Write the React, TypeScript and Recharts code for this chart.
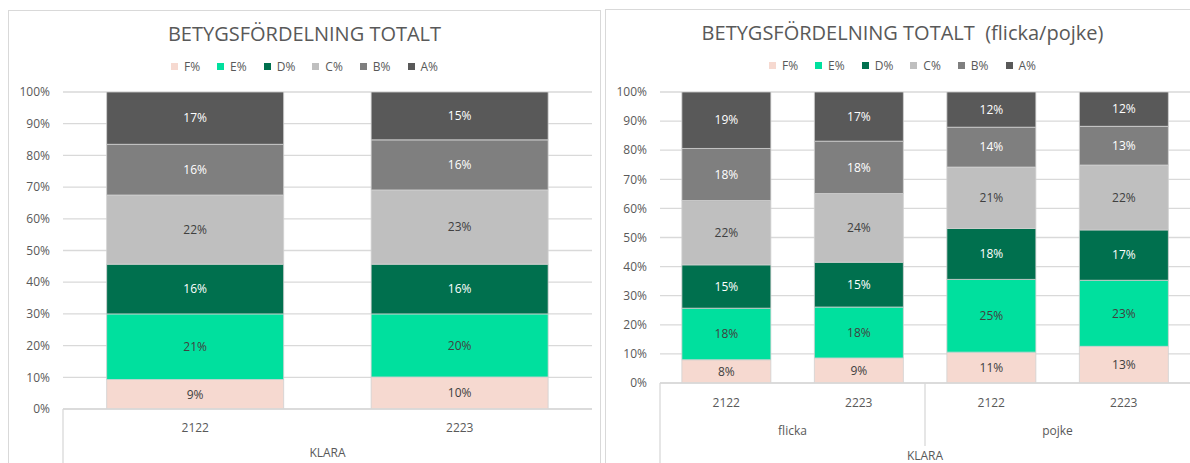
import React from 'react';
import { BarChart, Bar, XAxis, YAxis, CartesianGrid, LabelList } from 'recharts';

// ---------- data ----------
const gradeKeys = ['F', 'E', 'D', 'C', 'B', 'A'];
const gradeNames = ['F%', 'E%', 'D%', 'C%', 'B%', 'A%'];
const yTicks = [0, 10, 20, 30, 40, 50, 60, 70, 80, 90, 100];

// Chart 1: total
const totalYears = ['2122', '2223'];
const totalF = [9.3, 10.1];
const totalE = [20.7, 19.9];
const totalD = [15.7, 15.7];
const totalC = [21.8, 23.4];
const totalB = [16.0, 15.8];
const totalA = [16.5, 15.1];
const totalGroupLabel = 'KLARA';

// Chart 2: flicka / pojke
const splitYears = ['2122', '2223', '2122', '2223'];
const splitGroups = ['flicka', 'flicka', 'pojke', 'pojke'];
const splitF = [8.0, 8.6, 10.6, 12.6];
const splitE = [17.7, 17.5, 25.0, 22.7];
const splitD = [14.9, 15.4, 17.5, 17.3];
const splitC = [22.1, 23.6, 21.1, 22.3];
const splitB = [17.9, 18.0, 13.7, 13.3];
const splitA = [19.4, 16.9, 12.1, 11.8];

const titleTotal = 'BETYGSFÖRDELNING TOTALT';
const titleSplit = 'BETYGSFÖRDELNING TOTALT  (flicka/pojke)';

// ---------- styles ----------
const FONT = '"Open Sans", "DejaVu Sans", sans-serif';
const TEXT = '#595959';
const GRID = '#D9D9D9';
const colors = ['#F6D9D0', '#00E09E', '#00704E', '#BFBFBF', '#7F7F7F', '#595959'];
const labelColors = ['#404040', '#404040', '#FFFFFF', '#404040', '#FFFFFF', '#FFFFFF'];

function buildRows(years: string[], groups: string[] | null, series: number[][]) {
  return years.map((y, i) => {
    const row: any = { key: `${groups ? groups[i] : ''}-${y}-${i}`, year: y };
    gradeKeys.forEach((k, s) => {
      row[k] = series[s][i];
    });
    return row;
  });
}

const totalRows = buildRows(totalYears, null, [totalF, totalE, totalD, totalC, totalB, totalA]);
const splitRows = buildRows(splitYears, splitGroups, [splitF, splitE, splitD, splitC, splitB, splitA]);

function Legend() {
  return (
    <div style={{ display: 'flex', justifyContent: 'center', gap: 17, fontFamily: FONT, fontSize: 12, color: TEXT }}>
      {gradeNames.map((n, i) => (
        <div key={n} style={{ display: 'flex', alignItems: 'center', gap: 6 }}>
          <div style={{ width: 7, height: 7, background: colors[i] }} />
          <span>{n}</span>
        </div>
      ))}
    </div>
  );
}

type PanelProps = {
  left: number;
  top: number;
  width: number;
  height: number;
  title: string;
  rows: any[];
  groups: string[] | null;
  plotLeft: number;
  plotTop: number;
  plotRight: number;
  plotBottom: number;
  yearOffset: number;
  groupOffset: number;
  outerOffset: number;
};

function Panel(p: PanelProps) {
  const plotW = p.plotRight - p.plotLeft;
  const n = p.rows.length;
  const band = plotW / n;
  const spans: { name: string; start: number; end: number }[] = [];
  if (p.groups) {
    p.groups.forEach((g, i) => {
      const last = spans[spans.length - 1];
      if (last && last.name === g) last.end = i + 1;
      else spans.push({ name: g, start: i, end: i + 1 });
    });
  }
  const YearTick = (props: any) => {
    const idx = typeof props.index === 'number' ? props.index : p.rows.findIndex((r) => r.key === props.payload.value);
    const row = p.rows[idx];
    return (
      <text x={props.x} y={p.plotBottom + p.yearOffset} textAnchor="middle" dominantBaseline="central"
        fill={TEXT} fontSize={12} fontFamily={FONT}>{row ? row.year : ''}</text>
    );
  };
  return (
    <div style={{ position: 'absolute', left: p.left, top: p.top, width: p.width, height: p.height + 20,
      border: `1px solid ${GRID}`, boxSizing: 'border-box', background: '#fff' }}>
      <div style={{ position: 'absolute', left: 0, top: 11, width: '100%', textAlign: 'center', fontFamily: FONT,
        fontSize: 20, color: TEXT, whiteSpace: 'pre', lineHeight: '24px' }}>{p.title}</div>
      <div style={{ position: 'absolute', left: 0, top: 47, width: '100%' }}>
        <Legend />
      </div>
      <div style={{ position: 'absolute', left: -1, top: -1 }}>
        <BarChart width={p.width} height={p.height} data={p.rows}
          margin={{ top: p.plotTop, right: p.width - p.plotRight, left: 0, bottom: 0 }}
          barCategoryGap="16.5%">
          <CartesianGrid vertical={false} stroke={GRID} strokeWidth={1.3} />
          <XAxis dataKey="key" height={p.height - p.plotBottom} axisLine={{ stroke: GRID, strokeWidth: 1.3 }}
            tickLine={false} interval={0} tick={YearTick} />
          <YAxis type="number" domain={[0, 100]} ticks={yTicks} width={p.plotLeft} axisLine={false} tickLine={false}
            tickSize={0} tickMargin={13} tickFormatter={(v: number) => `${v}%`}
            tick={{ fill: TEXT, fontSize: 12, fontFamily: FONT }} allowDataOverflow />
          {gradeKeys.map((k, i) => (
            <Bar key={k} dataKey={k} stackId="s" fill={colors[i]} stroke="#D0D0D0" strokeWidth={0.8}
              isAnimationActive={false}>
              <LabelList dataKey={k} position="center" fill={labelColors[i]} fontSize={12} fontFamily={FONT}
                formatter={(v: any) => `${Math.round(Number(v))}%`} />
            </Bar>
          ))}
        </BarChart>
        <svg width={p.width} height={p.height} style={{ position: 'absolute', left: 0, top: 0, pointerEvents: 'none' }}>
          <line x1={p.plotLeft} x2={p.plotLeft} y1={p.plotBottom} y2={p.height + 5} stroke={GRID} strokeWidth={1.3} />
          {spans.slice(1).map((s) => (
            <line key={s.name} x1={p.plotLeft + s.start * band} x2={p.plotLeft + s.start * band}
              y1={p.plotBottom} y2={p.plotBottom + p.groupOffset + 16} stroke={GRID} strokeWidth={1.3} />
          ))}
          {spans.map((s) => (
            <text key={s.name} x={p.plotLeft + ((s.start + s.end) / 2) * band} y={p.plotBottom + p.groupOffset}
              textAnchor="middle" dominantBaseline="central" fill={TEXT} fontSize={12} fontFamily={FONT}>{s.name}</text>
          ))}
          <text x={p.plotLeft + plotW / 2} y={p.plotBottom + p.outerOffset} textAnchor="middle"
            dominantBaseline="central" fill={TEXT} fontSize={12} fontFamily={FONT}>{totalGroupLabel}</text>
        </svg>
      </div>
    </div>
  );
}

export default function App() {
  return (
    <div style={{ position: 'fixed', left: 0, top: 0, width: 1190, height: 463, overflow: 'hidden', background: '#fff' }}>
      <Panel left={8} top={10} width={593} height={453} title={titleTotal} rows={totalRows} groups={null}
        plotLeft={55} plotTop={82} plotRight={584} plotBottom={399} yearOffset={18} groupOffset={0} outerOffset={43} />
      <Panel left={605} top={9} width={595} height={454} title={titleSplit} rows={splitRows} groups={splitGroups}
        plotLeft={55} plotTop={83} plotRight={585} plotBottom={374} yearOffset={19} groupOffset={47} outerOffset={72} />
    </div>
  );
}
